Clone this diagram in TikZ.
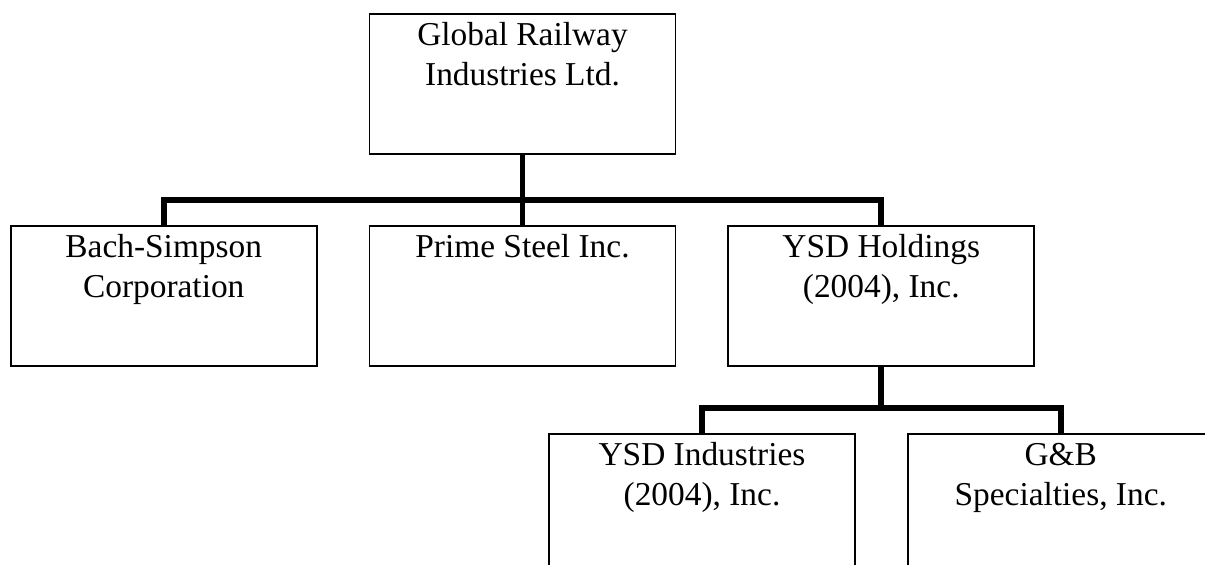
\documentclass[tikz,border=0pt]{standalone}
\usepackage{fontspec}
\setmainfont{Liberation Serif}
\usetikzlibrary{calc,positioning}

\begin{document}
\begin{tikzpicture}

    \def\boxfont{\fontsize{19}{22.76}\selectfont}
    \tikzset{
      orgbox/.style={draw, line width=1pt, anchor=north, inner xsep=0pt, inner ysep=0pt,
        text width=6.12cm, align=flush center, text height=0.64cm, text depth=2.16cm,
        font=\boxfont},
      link/.style={line width=3.4pt}
    }

    \clip (0,0) rectangle (24.1,-11.3);

    \node[orgbox] (gri) at (10.45,-0.26) {Global Railway\\Industries Ltd.};
    \node[orgbox, below=1.4cm of gri] (prime) {Prime Steel Inc.};
    \node[orgbox, left=1.02cm of prime] (bach) {Bach-Simpson\\Corporation};
    \node[orgbox, right=1.02cm of prime] (ysdh) {YSD Holdings\\(2004), Inc.};
    \node[orgbox] (ysdi) at (14.04,-8.66) {YSD Industries\\(2004), Inc.};
    \node[orgbox, right=1.02cm of ysdi] (gb) {G\&B\\Specialties, Inc.};

    \coordinate (bar1) at (0,-4.0);
    \coordinate (bar2) at (0,-8.16);

    \draw[link] (gri.south) -- (prime.north);
    \draw[link] (bach.north) -- (bach.north |- bar1) -| (ysdh.north);
    \draw[link] (ysdh.south) -- (ysdh.south |- bar2);
    \draw[link] (ysdi.north) -- (ysdi.north |- bar2) -| (gb.north);

\end{tikzpicture}
\end{document}
